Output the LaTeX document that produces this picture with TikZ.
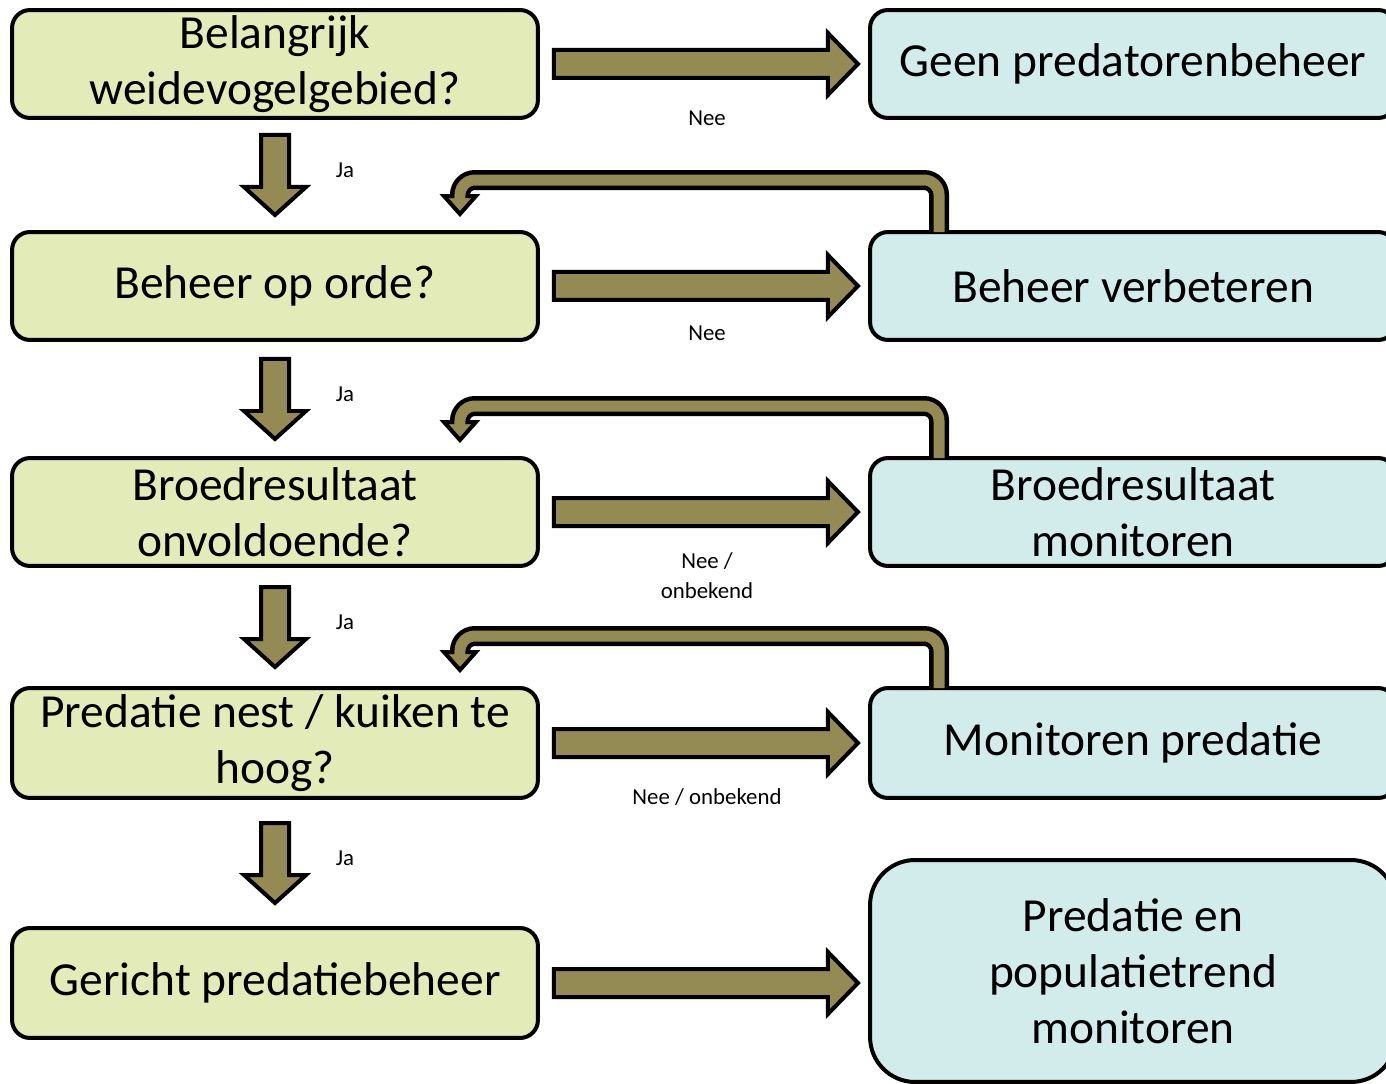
\documentclass[tikz,border=0pt]{standalone}
\usepackage{fontspec}
\setmainfont{Carlito}
\usetikzlibrary{calc}
\definecolor{boxyellow}{HTML}{E3EBB9}
\definecolor{boxblue}{HTML}{D2EBEB}
\definecolor{arrowolive}{HTML}{948A54}

\begin{document}
\begin{tikzpicture}[x=0.02cm, y=-0.02cm]
    \tikzstyle{question} = [rectangle, draw, line width=0.08cm, rounded corners=0.36cm, fill=boxyellow, minimum width=10.52cm, minimum height=2.16cm, inner sep=0pt, align=center, font=\fontsize{27}{32}\selectfont]
    \tikzstyle{action} = [question, fill=boxblue]
    \tikzstyle{block} = [draw, line width=0.08cm, fill=arrowolive, line join=miter]
    \tikzstyle{answer} = [align=center, font=\fontsize{13}{17}\selectfont]
    \tikzstyle{loopline} = [line width=0.4cm, rounded corners=0.3cm]
    \tikzstyle{loopfill} = [line width=0.22cm, arrowolive, rounded corners=0.3cm]

    \useasboundingbox (0,0) rectangle (1386,1084);

    % Vragen
    \node [question] (l1) at (275,64) {Belangrijk\\weidevogelgebied?};
    \node [question] (l2) at (275,286) {Beheer op orde?};
    \node [question] (l3) at (275,512) {Broedresultaat\\onvoldoende?};
    \node [question, minimum height=2.2cm] (l4) at (275,743) {Predatie nest / kuiken te\\hoog?};
    \node [question, minimum height=2.2cm] (l5) at (275,983) {Gericht predatiebeheer};

    % Acties
    \node [action] (r1) at (1133,64) {Geen predatorenbeheer};
    \node [action] (r2) at (1133,286) {Beheer verbeteren};
    \node [action] (r3) at (1133,512) {Broedresultaat\\monitoren};
    \node [action, minimum height=2.2cm] (r4) at (1133,743) {Monitoren predatie};
    \node [action, minimum height=4.44cm, rounded corners=0.9cm] (r5) at (1133,971) {Predatie en\\populatietrend\\monitoren};

    % Nee pijlen
    \foreach \i in {1,...,5}
        \draw [block, shift={($(l\i.east)+(14,0)$)}] (0,-14) -- (274,-14) -- (274,-31) -- (304,0) -- (274,31) -- (274,14) -- (0,14) -- cycle;

    % Ja pijlen
    \foreach \i/\j in {1/2,2/3,3/4,4/5} {
        \draw [block, shift={($(l\i.south)!0.5!(l\j.north)+(0,-40)$)}] (-14,0) -- (14,0) -- (14,52) -- (31,52) -- (0,80) -- (-31,52) -- (-14,52) -- cycle;
        \node [answer] (ja\i) at ($(l\i.south)!0.5!(l\j.north)+(70,-5)$) {Ja};
    }

    % Labels
    \node [answer] (nee1) at (707,118) {Nee};
    \node [answer] (nee2) at (707,333) {Nee};
    \node [answer] (nee3) at (707,576) {Nee /\\onbekend};
    \node [answer] (nee4) at (707,797) {Nee / onbekend};

    % Terug pijlen
    \foreach \i in {2,3,4} {
        \coordinate (tip\i) at ($(l\i.north east)+(-80,-16)$);
        \draw [loopline] ($(r\i.north west)+(71,0)$) |- ($(l\i.north east)+(-80,-50)$) -- ($(tip\i)+(0,-18)$);
        \draw [block] ($(tip\i)+(-16,-18)$) -- ($(tip\i)+(16,-18)$) -- (tip\i) -- cycle;
        \draw [loopfill] ($(r\i.north west)+(71,2)$) |- ($(l\i.north east)+(-80,-50)$) -- ($(tip\i)+(0,-12)$);
    }

\end{tikzpicture}
\end{document}
